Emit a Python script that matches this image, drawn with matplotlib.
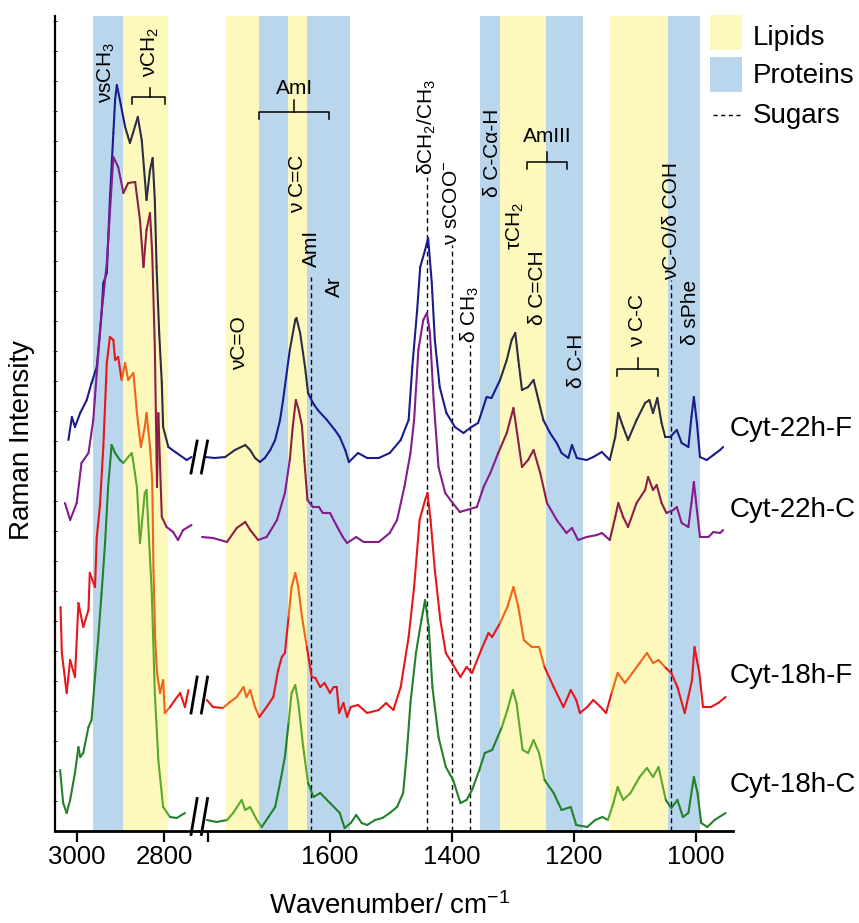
import matplotlib
matplotlib.use("Agg")
import matplotlib.pyplot as plt
import numpy as np
from matplotlib.collections import LineCollection
from matplotlib.patches import Rectangle
from matplotlib.lines import Line2D

plt.rcParams["font.family"] = ["Liberation Sans", "DejaVu Sans"]
plt.rcParams["mathtext.fontset"] = "custom"
plt.rcParams["mathtext.rm"] = "Liberation Sans"
plt.rcParams["mathtext.it"] = "Liberation Sans:italic"

# ---- spectra: CH-stretch window (left) and fingerprint window (right) ----
# Cyt-22h-F
f22_ch_wn = [3019, 3011, 3004, 2992, 2977, 2966, 2954, 2947, 2943, 2939, 2931, 2924,
             2916, 2912, 2908, 2901, 2889, 2878, 2871, 2860, 2851, 2840, 2832, 2826,
             2821, 2817, 2811, 2805, 2802, 2790, 2771, 2748, 2737]
f22_ch_y = [391, 414, 404, 418, 431, 448, 464, 498, 518, 548, 558, 631,
            698, 731, 746, 731, 704, 688, 698, 714, 691, 631, 661, 673,
            631, 564, 498, 448, 404, 384, 378, 371, 374]
f22_fp_wn = [1805, 1789, 1772, 1756, 1739, 1731, 1723, 1715, 1707, 1698, 1690, 1682,
             1677, 1666, 1657, 1655, 1649, 1641, 1636, 1628, 1620, 1605, 1592, 1584,
             1575, 1569, 1554, 1539, 1520, 1502, 1484, 1471, 1465, 1457, 1452, 1444,
             1439, 1433, 1428, 1420, 1409, 1395, 1381, 1368, 1357, 1343, 1335, 1321,
             1310, 1302, 1296, 1291, 1285, 1275, 1266, 1258, 1250, 1239, 1228, 1220,
             1209, 1203, 1195, 1179, 1168, 1154, 1141, 1132, 1127, 1119, 1111, 1097,
             1083, 1076, 1070, 1063, 1056, 1050, 1042, 1031, 1023, 1012, 1007, 1003,
             998, 993, 982, 971, 960, 955]
f22_fp_y = [374, 373, 374, 381, 386, 381, 373, 369, 373, 381, 391, 411,
            431, 481, 511, 513, 498, 464, 438, 428, 421, 411, 401, 394,
            381, 369, 378, 373, 373, 378, 391, 411, 464, 521, 564, 581,
            593, 548, 491, 444, 418, 404, 398, 404, 408, 434, 433, 451,
            471, 491, 498, 471, 441, 444, 451, 431, 411, 398, 388, 378,
            373, 386, 373, 371, 374, 379, 371, 394, 418, 404, 391, 411,
            428, 431, 418, 433, 408, 394, 394, 401, 388, 384, 414, 434,
            408, 374, 371, 376, 381, 384]

# Cyt-22h-C
c22_ch_wn = [3027, 3015, 3000, 2989, 2973, 2962, 2954, 2943, 2931, 2924, 2916, 2905,
             2893, 2882, 2866, 2855, 2847, 2840, 2832, 2827, 2821, 2816, 2813, 2805,
             2794, 2779, 2768, 2756, 2737]
c22_ch_y = [328, 311, 328, 368, 378, 411, 458, 518, 568, 618, 674, 664,
            638, 648, 649, 611, 564, 601, 618, 578, 484, 344, 418, 314,
            304, 299, 291, 301, 306]
c22_fp_wn = [1810, 1792, 1769, 1753, 1739, 1731, 1718, 1704, 1687, 1674, 1666, 1661,
             1656, 1651, 1646, 1642, 1637, 1628, 1618, 1612, 1600, 1588, 1579, 1572,
             1557, 1545, 1520, 1502, 1490, 1478, 1468, 1462, 1455, 1447, 1441, 1436,
             1430, 1422, 1411, 1400, 1387, 1376, 1359, 1348, 1337, 1324, 1310, 1299,
             1293, 1285, 1275, 1266, 1255, 1244, 1228, 1212, 1203, 1193, 1179, 1162,
             1154, 1141, 1132, 1127, 1119, 1111, 1097, 1083, 1078, 1070, 1064, 1056,
             1048, 1037, 1031, 1023, 1012, 1007, 1003, 998, 993, 979, 971, 960, 955]
c22_fp_y = [294, 293, 289, 303, 309, 301, 291, 294, 311, 338, 371, 405,
            431, 420, 405, 370, 331, 324, 324, 318, 318, 304, 294, 288,
            294, 289, 289, 298, 311, 344, 378, 411, 481, 511, 518, 498,
            431, 364, 338, 329, 319, 321, 324, 344, 358, 378, 398, 423,
            398, 364, 371, 381, 358, 328, 311, 298, 303, 291, 294, 296,
            298, 291, 314, 328, 314, 304, 328, 341, 354, 341, 346, 328,
            318, 321, 324, 308, 304, 328, 349, 321, 294, 294, 299, 298, 301]

# Cyt-18h-F
f18_ch_wn = [3037, 3034, 3023, 3015, 3004, 2996, 2985, 2973, 2970, 2958, 2954, 2947,
             2939, 2931, 2924, 2916, 2912, 2905, 2897, 2889, 2882, 2870, 2862, 2853,
             2844, 2840, 2832, 2827, 2824, 2820, 2816, 2809, 2802, 2798, 2786, 2775,
             2763, 2752, 2744]
f18_ch_y = [224, 178, 138, 171, 154, 228, 204, 221, 258, 244, 294, 324,
            384, 468, 494, 491, 471, 474, 451, 468, 451, 458, 418, 384,
            404, 418, 384, 351, 260, 190, 158, 138, 151, 118, 124, 131,
            138, 124, 141]
f18_fp_wn = [1802, 1792, 1776, 1764, 1753, 1742, 1737, 1731, 1723, 1716, 1704, 1693,
             1685, 1679, 1674, 1668, 1663, 1657, 1652, 1646, 1638, 1630, 1624, 1616,
             1609, 1600, 1594, 1589, 1585, 1578, 1572, 1566, 1554, 1539, 1520, 1508,
             1496, 1484, 1471, 1462, 1453, 1444, 1440, 1435, 1428, 1419, 1410, 1398,
             1386, 1376, 1367, 1352, 1340, 1334, 1321, 1309, 1299, 1291, 1282, 1269,
             1257, 1248, 1233, 1217, 1205, 1196, 1190, 1178, 1168, 1156, 1147, 1138,
             1128, 1116, 1104, 1092, 1080, 1070, 1061, 1049, 1040, 1030, 1018, 1006,
             1002, 994, 988, 975, 963, 951]
f18_fp_y = [131, 124, 123, 129, 134, 144, 134, 141, 124, 114, 124, 134,
            161, 174, 178, 214, 244, 258, 244, 214, 184, 154, 153, 144,
            148, 138, 144, 144, 118, 128, 114, 124, 126, 118, 121, 128,
            121, 144, 194, 244, 311, 331, 338, 311, 261, 211, 178, 166,
            154, 164, 158, 181, 198, 194, 208, 224, 244, 224, 191, 184,
            184, 164, 144, 124, 141, 131, 118, 124, 131, 124, 118, 138,
            158, 148, 158, 168, 178, 168, 171, 163, 158, 144, 118, 151,
            184, 158, 124, 124, 128, 134]

# Cyt-18h-C
c18_ch_wn = [3038, 3031, 3023, 3015, 3004, 2996, 2992, 2985, 2973, 2966, 2958, 2951,
             2943, 2935, 2928, 2920, 2912, 2901, 2893, 2882, 2874, 2871, 2862, 2855,
             2844, 2840, 2828, 2821, 2813, 2802, 2786, 2771, 2752]
c18_ch_y = [61, 28, 18, 31, 58, 84, 74, 78, 104, 111, 154, 191,
            238, 288, 344, 386, 378, 371, 368, 374, 378, 371, 344, 288,
            338, 341, 238, 138, 71, 24, 14, 13, 18]
c18_fp_wn = [1802, 1786, 1769, 1759, 1745, 1739, 1731, 1720, 1712, 1701, 1690, 1682,
             1674, 1668, 1663, 1657, 1652, 1644, 1636, 1627, 1616, 1600, 1584, 1576,
             1566, 1557, 1548, 1539, 1526, 1514, 1502, 1490, 1480, 1474, 1468, 1459,
             1450, 1444, 1438, 1432, 1422, 1410, 1398, 1386, 1376, 1367, 1355, 1346,
             1334, 1318, 1309, 1300, 1294, 1284, 1275, 1266, 1257, 1248, 1233, 1220,
             1205, 1196, 1178, 1165, 1153, 1144, 1135, 1128, 1119, 1107, 1092, 1080,
             1070, 1061, 1049, 1040, 1030, 1021, 1012, 1003, 997, 991, 981, 969, 951]
c18_fp_y = [11, 9, 11, 18, 31, 21, 24, 11, 4, 14, 24, 48,
            74, 108, 138, 146, 128, 84, 48, 34, 38, 28, 18, 3,
            8, 16, 8, 6, 11, 13, 18, 24, 38, 78, 128, 178,
            211, 231, 204, 144, 94, 64, 51, 28, 31, 41, 61, 78,
            81, 104, 121, 141, 128, 81, 78, 91, 78, 51, 38, 21,
            24, 6, 4, 11, 14, 11, 28, 44, 31, 38, 54, 63,
            54, 64, 31, 23, 31, 14, 18, 54, 38, 8, 4, 11, 18]

# name, colour outside lipid bands, colour inside lipid bands, label baseline, break mark
spectra = [
    ("Cyt-22h-F", "#1b1b8c", "#2c2c44", f22_ch_wn, f22_ch_y, f22_fp_wn, f22_fp_y, 395, True),
    ("Cyt-22h-C", "#851c8c", "#8c1e46", c22_ch_wn, c22_ch_y, c22_fp_wn, c22_fp_y, 314, False),
    ("Cyt-18h-F", "#e6161b", "#f0641a", f18_ch_wn, f18_ch_y, f18_fp_wn, f18_fp_y, 148, True),
    ("Cyt-18h-C", "#23802a", "#5aa82c", c18_ch_wn, c18_ch_y, c18_fp_wn, c18_fp_y, 39, True),
]

# ---- band assignments (cm-1) ----
lipid_ch = [(2894, 2791)]
protein_ch = [(2963, 2894)]
lipid_fp = [(1771, 1716), (1669, 1637), (1321, 1245), (1141, 1046)]
protein_fp = [(1716, 1669), (1637, 1567), (1354, 1321), (1245, 1185), (1046, 993)]
sugar_wn = [1632, 1441, 1400, 1370, 1040]
sugar_top = [554, 654, 586, 486, 551]

YELLOW = "#fdf9bd"
BLUE = "#b9d6ec"


def draw_spectrum(ax, wn, y, col, col_lipid, lipid_bands):
    pts = np.column_stack([wn, y]).astype(float)
    segs = np.stack([pts[:-1], pts[1:]], axis=1)
    mid = (pts[:-1, 0] + pts[1:, 0]) / 2
    in_lip = np.zeros(len(mid), bool)
    for a, b in lipid_bands:
        in_lip |= (mid <= a) & (mid >= b)
    cols = [col_lipid if f else col for f in in_lip]
    ax.add_collection(LineCollection(segs, colors=cols, linewidths=1.5,
                                     capstyle="round", joinstyle="round", zorder=3))


fig = plt.figure(figsize=(8.59, 9.23), dpi=100)
ax_l = fig.add_axes([55 / 859, 92 / 923, 145 / 859, 815 / 923])
ax_r = fig.add_axes([200 / 859, 92 / 923, 533 / 859, 815 / 923])

for ax, lip, pro in [(ax_l, lipid_ch, protein_ch), (ax_r, lipid_fp, protein_fp)]:
    for a, b in lip:
        ax.axvspan(a, b, color=YELLOW, lw=0, zorder=0)
    for a, b in pro:
        ax.axvspan(a, b, color=BLUE, lw=0, zorder=0)
    for s in ("top", "right"):
        ax.spines[s].set_visible(False)
    ax.spines["bottom"].set_linewidth(2.0)
    ax.tick_params(axis="x", direction="out", length=8, width=1.6, labelsize=18.5, pad=2)

ax_l.set_xlim(3049.7, 2717.5)
ax_r.set_xlim(1813.3, 938.8)
ax_l.set_xticks([3000, 2800])
ax_r.set_xticks([1800, 1600, 1400, 1200, 1000])
ax_r.set_xticklabels(["", "1600", "1400", "1200", "1000"])
ax_l.spines["left"].set_linewidth(1.6)
ax_l.set_yticks(range(30, 815, 30))
ax_l.set_yticklabels([])
ax_l.tick_params(axis="y", direction="inout", length=3, width=0.6)
ax_r.spines["left"].set_visible(False)
ax_r.set_yticks([])

for wn, top in zip(sugar_wn, sugar_top):
    ax_r.plot([wn, wn], [0, top], color="black", lw=1.0, ls=(0, (3.5, 2.5)), zorder=2)

for name, col, col_lip, wl, yl, wr, yr, lab_y, brk in spectra:
    draw_spectrum(ax_l, wl, yl, col, col_lip, lipid_ch)
    draw_spectrum(ax_r, wr, yr, col, col_lip, lipid_fp)
    ax_r.text(945, lab_y, name, fontsize=20, ha="left", va="baseline", clip_on=False)
    if brk:
        yc = (yl[-1] + yr[0]) / 2
        h = 16 if yc > 200 else 18
        for xc in (1823, 1806):
            ax_r.plot([xc + 5, xc - 5], [yc - h, yc + h], color="black", lw=2.0,
                      clip_on=False, zorder=4)

for ax in (ax_l, ax_r):
    ax.set_ylim(0, 815)

# ---- peak labels ----
TXT = dict(fontsize=15, rotation=90, ha="center", va="bottom", zorder=5)
ax_l.text(2931, 728, r"νsCH$_{\mathregular{3}}$", **TXT)
ax_l.text(2832, 754, r"νCH$_{\mathregular{2}}$", **TXT)

rot_labels = [
    (r"νC=O", 1748, 461),
    (r"ν C=C", 1653, 618),
    (r"AmI", 1630, 564),
    (r"Ar", 1592, 534),
    (r"δCH$_{\mathregular{2}}$/CH$_{\mathregular{3}}$", 1441, 656),
    (r"ν sCOO$^{\mathregular{-}}$", 1400, 586),
    (r"δ CH$_{\mathregular{3}}$", 1370, 488),
    (r"δ C-Cα-H", 1333, 634),
    (r"τCH$_{\mathregular{2}}$", 1296, 581),
    (r"δ C=CH", 1260, 506),
    (r"δ C-H", 1195, 443),
    (r"ν C-C", 1096, 484),
    (r"νC-O/δ COH", 1040, 551),
    (r"δ sPhe", 1009, 486),
]
for t, x, y in rot_labels:
    ax_r.text(x, y, t, **TXT)

ax_r.text(1659, 743, "AmI", fontsize=15, ha="center", va="center")
ax_r.text(1244, 694, "AmIII", fontsize=15, ha="center", va="center")

brackets = [
    (ax_l, 2873, 2798, 734, 2832, 743),
    (ax_r, 1716, 1602, 719, 1659, 731),
    (ax_r, 1277, 1211, 669, 1244, 679),
    (ax_r, 1129, 1062, 462, 1095, 473),
]
for ax, x0, x1, y, xs, ys in brackets:
    ax.plot([x0, x0, x1, x1], [y - 7, y, y, y - 7], color="black", lw=1.1, zorder=5)
    ax.plot([xs, xs], [y, ys], color="black", lw=1.1, zorder=5)

# ---- legend ----
fig.patches.append(Rectangle((710 / 859, 1 - 50 / 923), 32 / 859, 35 / 923,
                             transform=fig.transFigure, color=YELLOW, lw=0))
fig.patches.append(Rectangle((710 / 859, 1 - 92 / 923), 32 / 859, 35 / 923,
                             transform=fig.transFigure, color=BLUE, lw=0))
fig.lines.append(Line2D([713 / 859, 740 / 859], [1 - 115 / 923] * 2, transform=fig.transFigure,
                        color="black", lw=1.0, ls=(0, (3, 2.5))))
for t, yb in [("Lipids", 45), ("Proteins", 83), ("Sugars", 123)]:
    fig.text(753 / 859, 1 - yb / 923, t, fontsize=20, ha="left", va="baseline")

fig.text(22 / 859, 1 - 440 / 923, "Raman Intensity", fontsize=20, rotation=90,
         ha="center", va="center")
fig.text(389 / 859, 1 - 914 / 923, r"Wavenumber/ cm$^{\mathregular{-1}}$", fontsize=20,
         ha="center", va="baseline")

fig.savefig("out.png", dpi=100)
